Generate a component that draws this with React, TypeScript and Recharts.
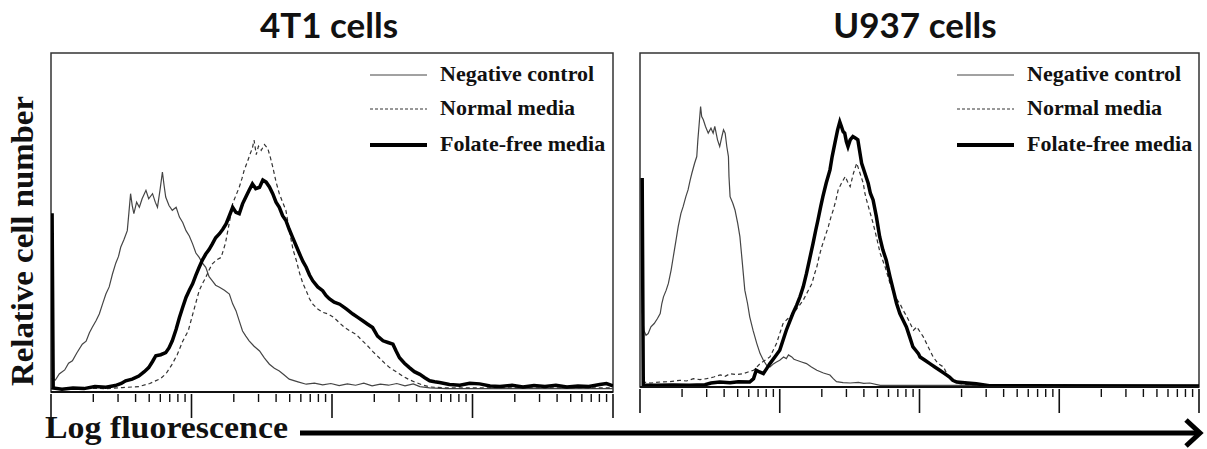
import React from "react";
import { LineChart, Line, XAxis, YAxis, ReferenceArea } from "recharts";

type Pt = [number, number];

// x = acquisition channel (1024 channels over 4 log decades), y = relative count (100 = top of frame)
const t41Negative: Pt[] = [
  [0, 4], [8, 3.5], [15, 5.3], [25, 6.5], [32, 8.5], [39, 9.2], [47, 11.5], [57, 14.1], [64, 15], [70, 17.5],
  [75, 19], [82, 21], [88, 23], [94, 26], [100, 28.9], [106, 31], [112, 34.8], [118, 38], [123, 40], [127, 42.7],
  [133, 45], [139, 47.6], [142, 53], [145, 58.5], [148, 55], [151, 52.6], [156, 56], [161, 54.5], [166, 57], [173, 59.5],
  [178, 57], [185, 58.5], [190, 56], [194, 54.5], [199, 60], [203, 64.9], [206, 61], [209, 57.5], [215, 55], [221, 53.6],
  [228, 54.5], [234, 51.6], [240, 50], [246, 47.6], [252, 46], [258, 43.7], [264, 41], [270, 39.7], [276, 38], [282, 36.8],
  [288, 34], [294, 32.8], [300, 31.5], [307, 30.9], [316, 30], [325, 28.9], [331, 26], [337, 24], [343, 21], [349, 18],
  [355, 16.5], [361, 15.1], [370, 13.5], [380, 12.1], [389, 10], [398, 8.2], [407, 7], [416, 6.2], [425, 5], [434, 3.8],
  [450, 3], [465, 2.3], [480, 2.6], [495, 2.1], [510, 2.5], [525, 1.9], [540, 2.4], [555, 2], [570, 2.6], [585, 1.8],
  [600, 2.3], [615, 2], [630, 2.5], [645, 1.8], [660, 2.4], [672, 1.6], [690, 1.2], [720, 1], [1024, 1],
];

const t41Normal: Pt[] = [
  [0, 1], [30, 0.8], [60, 1.1], [100, 1], [130, 1.3], [160, 1.6], [180, 2.5], [200, 4], [210, 5.5], [220, 8],
  [230, 11], [240, 15], [250, 18], [260, 24], [270, 29.9], [276, 32], [282, 33.8], [288, 36], [294, 37.8], [302, 39],
  [310, 39.7], [318, 44], [325, 50], [331, 55.6], [337, 58], [343, 60.4], [348, 63], [352, 65.4], [358, 68], [363, 70.3],
  [367, 72], [370, 74.3], [374, 70], [378, 72.5], [383, 71.3], [389, 73], [395, 71.8], [400, 69], [404, 66.4], [410, 62],
  [416, 58.5], [422, 56], [428, 53.6], [435, 47], [441, 42], [447, 38.8], [453, 35], [459, 32], [465, 29.9], [471, 27.5],
  [477, 25.9], [486, 24.5], [495, 23.5], [505, 23], [515, 22], [525, 20.5], [535, 19], [545, 18], [556, 17], [565, 15.5],
  [574, 14.1], [586, 12], [598, 10.1], [608, 8.5], [617, 7.2], [629, 6], [641, 4.7], [653, 3.6], [665, 2.8], [678, 2],
  [690, 1.5], [720, 1.2], [1024, 1.2],
];

const t41FolateFree: Pt[] = [
  [2, 52.7], [4, 1.2], [20, 0.8], [40, 1.2], [60, 1], [80, 1.6], [100, 1.4], [117, 1.9], [128, 2.5], [136, 3.3],
  [148, 3.8], [160, 4.7], [170, 6], [178, 7.2], [185, 9], [191, 10.7], [200, 11], [209, 11.6], [215, 13], [221, 15.1],
  [228, 18.5], [234, 22], [240, 25], [246, 27.9], [252, 30], [258, 31.9], [264, 34.5], [270, 36.8], [276, 39], [282, 40.7],
  [288, 42], [294, 43.7], [300, 45.5], [307, 46.7], [313, 48], [319, 49.6], [325, 52], [331, 54.5], [337, 53], [343, 52.6],
  [349, 55.5], [355, 57.5], [361, 59.5], [367, 61.4], [373, 60], [380, 60.4], [386, 62.5], [392, 61.9], [398, 60.5], [404, 58.5],
  [410, 56], [416, 54.5], [422, 52], [428, 50.6], [434, 48], [440, 45.7], [447, 43], [453, 40.7], [459, 38.5], [465, 36.8],
  [471, 34.5], [477, 32.8], [486, 31], [495, 29.9], [501, 28.5], [507, 27.5], [516, 26.5], [526, 25.9], [538, 24.5], [550, 23],
  [559, 22], [568, 21], [577, 20], [586, 19], [595, 16.5], [605, 15.1], [614, 14.6], [623, 14.1], [629, 12], [635, 10.1],
  [644, 8.5], [653, 7.2], [662, 6], [672, 5.2], [681, 4.2], [690, 3.3], [699, 3], [708, 2.8], [726, 2.2], [745, 2],
  [763, 2.6], [781, 2.4], [800, 1.8], [818, 1.6], [840, 2], [860, 1.5], [880, 1.9], [900, 1.6], [920, 2], [940, 1.5],
  [960, 1.8], [980, 1.6], [1000, 2.2], [1012, 2.5], [1024, 1.8],
];

const u937Negative: Pt[] = [
  [4, 23], [7, 17], [11, 15.5], [15, 16], [20, 18], [26, 19], [32, 20.5], [37, 22], [40, 25], [43, 27],
  [48, 29], [52, 31], [57, 35], [61, 39], [66, 44], [70, 48], [75, 52], [79, 54], [84, 57], [88, 59],
  [92, 62], [95, 64], [100, 67], [104, 69], [106, 74], [108, 78], [111, 84], [113, 81], [116, 80], [120, 78],
  [125, 76], [130, 77.5], [134, 76], [137, 78], [142, 74], [146, 72], [150, 75], [153, 77], [156, 76], [159, 72],
  [162, 69], [163, 63], [165, 57], [170, 55], [174, 53], [179, 49], [183, 45], [187, 38], [192, 29], [197, 25],
  [201, 21], [207, 17], [214, 13], [220, 10], [226, 8], [232, 6.5], [238, 6], [245, 7], [250, 7.5], [256, 8],
  [263, 9], [268, 8.5], [272, 9.6], [278, 9], [282, 8.3], [287, 8], [296, 7.5], [305, 7], [314, 6], [324, 5],
  [336, 4.2], [348, 3.6], [354, 2.5], [360, 1.6], [372, 1.3], [385, 1.2], [400, 1.4], [410, 1.1], [421, 1.2], [440, 0.5],
  [1024, 0.5],
];

const u937Normal: Pt[] = [
  [4, 1.5], [20, 1.2], [37, 1.5], [55, 1.6], [73, 2], [85, 1.8], [98, 2.5], [110, 2.2], [122, 2.5], [135, 3],
  [147, 3.6], [156, 3.2], [165, 4], [177, 3.7], [189, 4], [198, 4.5], [208, 5], [214, 6], [220, 7], [229, 8],
  [238, 9], [244, 11], [250, 13], [256, 16], [262, 19], [271, 20.5], [281, 22], [290, 24], [299, 26], [307, 28.5],
  [315, 31], [320, 34], [324, 36], [328, 39], [333, 42], [339, 45], [345, 48], [350, 51], [354, 53], [359, 56],
  [363, 59], [369, 61], [376, 63], [380, 61.5], [385, 60], [391, 64], [397, 67], [403, 64], [409, 61], [412, 58],
  [415, 56], [421, 52.5], [427, 49], [433, 45], [440, 40], [449, 36], [458, 31], [467, 27], [476, 25], [482, 23],
  [489, 21], [495, 19], [501, 17], [507, 18], [513, 16.5], [519, 15], [528, 12], [537, 9], [546, 7], [556, 6],
  [562, 4], [568, 2.5], [577, 1.5], [586, 1], [610, 0.5], [1024, 0.4],
];

const u937FolateFree: Pt[] = [
  [4, 62.6], [6, 0.6], [30, 0.5], [60, 0.6], [90, 0.5], [119, 0.7], [130, 1.2], [146, 1.5], [165, 1.3], [180, 1.6],
  [201, 1.5], [208, 2.5], [213, 5], [219, 4.5], [226, 4], [232, 5.5], [238, 7], [247, 9], [256, 11], [262, 14],
  [268, 17], [274, 19.5], [280, 22], [287, 24.5], [293, 27], [299, 30], [305, 34], [311, 38.5], [317, 43], [322, 47],
  [326, 50], [331, 54], [335, 57], [341, 61], [348, 65], [352, 69], [357, 73], [362, 77], [366, 79.4], [369, 78],
  [372, 76.5], [375, 76], [378, 73.5], [381, 72], [385, 74], [390, 75], [395, 74.5], [399, 74], [403, 70], [406, 67],
  [412, 64], [418, 61], [422, 58], [427, 56], [433, 51], [439, 45], [445, 41], [451, 38], [458, 33], [464, 29],
  [470, 25], [476, 22], [482, 20], [488, 18], [494, 15], [500, 12], [505, 11], [510, 10], [513, 9], [522, 8],
  [531, 7], [540, 6], [549, 5], [558, 4], [567, 3], [573, 2], [580, 1.5], [600, 1.2], [616, 1], [640, 0.4],
  [1024, 0.3],
];

const seriesNames = ["Negative control", "Normal media", "Folate-free media"];
const panelTitles = ["4T1 cells", "U937 cells"];
const decades = [0, 1, 2, 3, 4];
const minorSteps = [2, 3, 4, 5, 6, 7, 8, 9];
const CH_PER_DECADE = 256;

const majorTicks = decades.map((d) => d * CH_PER_DECADE);
const minorTicks = decades
  .slice(0, 4)
  .flatMap((d) => minorSteps.map((k) => (d + Math.log10(k)) * CH_PER_DECADE));
const allTicks = [...majorTicks, ...minorTicks].sort((a, b) => a - b);

const lineStyles = [
  { stroke: "#454545", strokeWidth: 1.2 },
  { stroke: "#333", strokeWidth: 1.2, strokeDasharray: "4 3" },
  { stroke: "#000", strokeWidth: 3.5 },
];

const SERIF = "'Liberation Serif', 'Times New Roman', serif";
const H = 449;
const AXIS_H = 30;

const toRows = (pts: Pt[]) => pts.map(([ch, n]) => ({ ch, n }));

function LogTick(props: any) {
  const { x, y, payload } = props;
  const major = majorTicks.includes(payload.value);
  return (
    <line
      x1={x}
      x2={x}
      y1={y}
      y2={y + (major ? 24 : 8)}
      stroke="#111"
      strokeWidth={major ? 1.6 : 1.4}
    />
  );
}

function Panel({
  left,
  width,
  plotTop,
  plotBottom,
  marginLeft,
  marginRight,
  series,
}: {
  left: number;
  width: number;
  plotTop: number;
  plotBottom: number;
  marginLeft: number;
  marginRight: number;
  series: Pt[][];
}) {
  return (
    <div style={{ position: "absolute", left, top: 0 }}>
      <LineChart
        width={width}
        height={H}
        margin={{ top: plotTop, left: marginLeft, right: marginRight, bottom: H - plotBottom - AXIS_H }}
      >
        <XAxis
          type="number"
          dataKey="ch"
          domain={[0, 1024]}
          ticks={allTicks}
          interval={0}
          tick={(p: any) => <LogTick {...p} />}
          tickLine={false}
          tickSize={0}
          axisLine={{ stroke: "#111", strokeWidth: 2 }}
          height={AXIS_H}
          allowDataOverflow
        />
        <YAxis hide type="number" domain={[0, 100]} allowDataOverflow />
        <ReferenceArea x1={0} x2={1024} y1={0} y2={100} fill="none" stroke="#333" strokeWidth={1.5} />
        {series.map((pts, i) => (
          <Line
            key={seriesNames[i]}
            name={seriesNames[i]}
            data={toRows(pts)}
            dataKey="n"
            type="linear"
            dot={false}
            activeDot={false}
            isAnimationActive={false}
            {...lineStyles[i]}
          />
        ))}
      </LineChart>
    </div>
  );
}

function LegendBox({ x }: { x: number }) {
  const rows = [75, 109, 145];
  return (
    <g>
      {seriesNames.map((name, i) => (
        <g key={name}>
          <line
            x1={x}
            x2={x + 57}
            y1={rows[i]}
            y2={rows[i]}
            {...lineStyles[i]}
            strokeWidth={i === 2 ? 4 : 1}
            strokeDasharray={i === 1 ? "3 2" : undefined}
          />
          <text x={x + 70} y={rows[i] + 6} fontFamily={SERIF} fontWeight={700} fontSize={22} fill="#111">
            {name}
          </text>
        </g>
      ))}
    </g>
  );
}

export default function App() {
  return (
    <div style={{ position: "absolute", left: 0, top: 0, width: 1207, height: H, background: "#fff" }}>
      <Panel
        left={0}
        width={620}
        plotTop={53}
        plotBottom={392}
        marginLeft={51}
        marginRight={7}
        series={[t41Negative, t41Normal, t41FolateFree]}
      />
      <Panel
        left={620}
        width={587}
        plotTop={53}
        plotBottom={387}
        marginLeft={20}
        marginRight={8}
        series={[u937Negative, u937Normal, u937FolateFree]}
      />
      <svg width={1207} height={H} style={{ position: "absolute", left: 0, top: 0, pointerEvents: "none" }}>
        <text x={329} y={38} textAnchor="middle" fontFamily="Lato, 'Open Sans', sans-serif" fontWeight={700} fontSize={35} fill="#111">
          {panelTitles[0]}
        </text>
        <text x={915} y={38} textAnchor="middle" fontFamily="Lato, 'Open Sans', sans-serif" fontWeight={700} fontSize={35} fill="#111">
          {panelTitles[1]}
        </text>
        <LegendBox x={370} />
        <LegendBox x={957} />
        <text
          transform="translate(33,241) rotate(-90)"
          textAnchor="middle"
          fontFamily={SERIF}
          fontWeight={700}
          fontSize={32}
          textLength={290}
          lengthAdjust="spacingAndGlyphs"
          fill="#111"
        >
          Relative cell number
        </text>
        <text
          x={45}
          y={438}
          fontFamily={SERIF}
          fontWeight={700}
          fontSize={31}
          textLength={243}
          lengthAdjust="spacingAndGlyphs"
          fill="#111"
        >
          Log fluorescence
        </text>
        <line x1={300} x2={1198} y1={433} y2={433} stroke="#000" strokeWidth={5} />
        <polyline points="1186,420 1200,433 1186,446" fill="none" stroke="#000" strokeWidth={5} />
      </svg>
    </div>
  );
}
